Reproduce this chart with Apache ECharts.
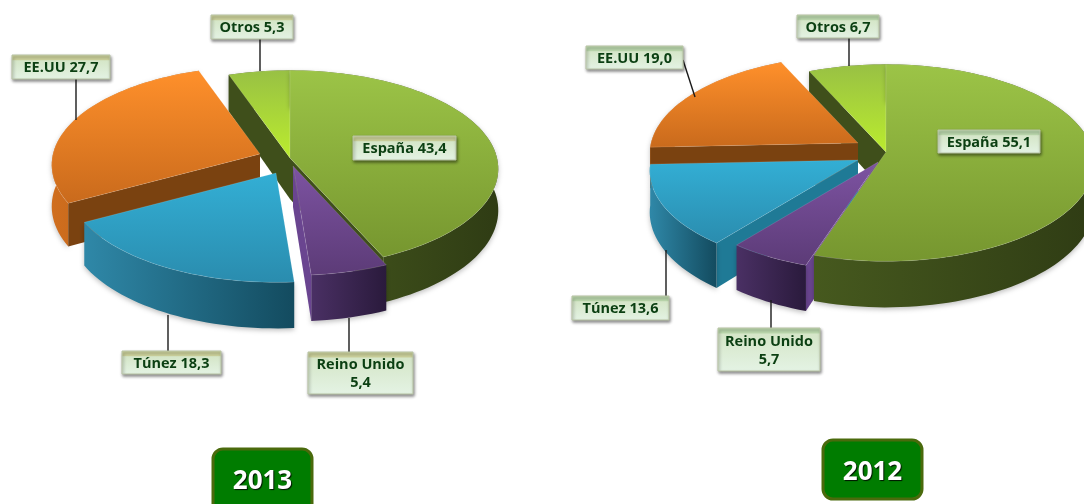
<!DOCTYPE html>
<html>
<head>
<meta charset="utf-8">
<title>Reparto por destino 2013 y 2012</title>
<script src="https://cdn.jsdelivr.net/npm/echarts@6/dist/echarts.min.js"></script>
<style>
    html, body { margin: 0; padding: 0; background: #fff; }
    #chart { width: 1084px; height: 504px; }
</style>
</head>
<body>
<div id="chart"></div>
<script>
const categories = ['España', 'Reino Unido', 'Túnez', 'EE.UU', 'Otros'];
const values2013 = [43.4, 5.4, 18.3, 27.7, 5.3];
const values2012 = [55.1, 5.7, 13.6, 19.0, 6.7];
const years = ['2013', '2012'];

// Pie geometry shared by both charts
const RADIUS = 207;
const FLATTEN = 0.47;
const PERSPECTIVE = 0.11;
const DEPTH = 41;

const center2013 = [290, 158];
const center2012 = [886, 152];

// How far each slice is pulled out of the pie
const explode2013 = [[0, 0], [3, 8], [-14, 15], [-30, -4], [0, 0]];
const explode2012 = [[0, 0], [-8, 10], [-28, 8], [-28, -9], [0, 0]];

// Painting order, back to front
const zOrder = [3, 5, 4, 2, 1];

// x, y, w, h of the label boxes
const boxes2013 = [[353, 136, 103, 24], [308, 352, 105, 42], [122, 351, 99, 23], [12, 55, 98, 24], [211, 15, 82, 24]];
const boxes2012 = [[938, 130, 102, 23], [718, 328, 102, 43], [572, 296, 97, 24], [586, 46, 97, 23], [797, 15, 82, 23]];

// Leader lines from box to slice (España has none)
const leaders2013 = [null, [349, 318, 349, 352], [168, 315, 168, 351], [76, 78, 76, 120], [260, 39, 260, 71]];
const leaders2012 = [null, [771, 300, 771, 328], [666, 250, 666, 296], [683, 60, 695, 97], [849, 38, 849, 66]];

const topColors = [['#9cc447', '#76962f'], ['#7d53a2', '#5c3b77'], ['#33afd5', '#2a8cae'], ['#ff902b', '#c96a1c'], ['#98c044', '#bbec2e']];
const rimColors = [['#46591e', '#2f3c14'], ['#4a3064', '#2a1a3c'], ['#2f88a8', '#134b5f'], ['#d06e1e', '#a85a16'], ['#3f4f1b', '#3f4f1b']];
const cutColors = ['#3f4f1b', '#6a4590', '#1f7a96', '#7a4210', '#3f4f1b'];

function vertical(c) {
    return new echarts.graphic.LinearGradient(0, 0, 0, 1, [{ offset: 0, color: c[0] }, { offset: 1, color: c[1] }]);
}

function horizontal(c) {
    return new echarts.graphic.LinearGradient(0, 0, 1, 0, [{ offset: 0, color: c[0] }, { offset: 1, color: c[1] }]);
}

// Angle is clockwise from 12 o'clock, the front of the pie gets a bit bigger
function project(apex, deg) {
    const a = deg * Math.PI / 180;
    const u = Math.sin(a);
    const v = -Math.cos(a);
    const s = 1 / (1 - PERSPECTIVE * v);
    return [apex[0] + RADIUS * u * s, apex[1] + RADIUS * FLATTEN * v * s, s];
}

function labelText(i, value) {
    const num = value.toFixed(1).replace('.', ',');
    return categories[i] === 'Reino Unido' ? categories[i] + '\n' + num : categories[i] + ' ' + num;
}

// A cut wall shows only if moving its edge down leaves the slice's top face
function wallShows(apex, edge, mid) {
    const ex = edge[0] - apex[0];
    const ey = edge[1] - apex[1];
    const toDown = ex;
    const toMid = ex * (mid[1] - apex[1]) - ey * (mid[0] - apex[0]);
    return toDown * toMid < 0;
}

function renderSlice(params, api, cfg) {
    const i = params.dataIndex;
    let before = 0;
    for (let k = 0; k < i; k++) before += cfg.values[k];
    const total = cfg.values.reduce((a, b) => a + b, 0);
    const start = before / total * 360;
    const end = (before + api.value(0)) / total * 360;

    const apex = [cfg.center[0] + cfg.explode[i][0], cfg.center[1] + cfg.explode[i][1]];
    const z = zOrder[i] * 10;

    const arc = [];
    const steps = Math.ceil((end - start) / 2);
    for (let k = 0; k <= steps; k++) arc.push(project(apex, start + (end - start) * k / steps));
    const mid = project(apex, (start + end) / 2);

    const down = (p) => [p[0], p[1] + DEPTH * p[2]];
    const flat = (p) => [p[0], p[1]];
    const apexDown = [apex[0], apex[1] + DEPTH];
    const children = [];

    // Rim first, then the cut walls, then the top face
    children.push({
        type: 'polygon',
        z2: z,
        shape: { points: arc.map(flat).concat(arc.slice().reverse().map(down)) },
        style: { fill: horizontal(rimColors[i]), shadowBlur: 5, shadowColor: 'rgba(0,0,0,0.25)', shadowOffsetY: 2 }
    });
    [arc[0], arc[arc.length - 1]].forEach((p, side) => {
        if (!wallShows(apex, p, mid)) return;
        // Walls of the front slices that face España go behind it, only their outer end stays in view
        const tucked = side === 0 && zOrder[i] > zOrder[0];
        children.push({
            type: 'polygon',
            z2: tucked ? zOrder[0] * 10 - 0.5 : z + 1,
            shape: { points: [apex, flat(p), down(p), apexDown] },
            style: { fill: cutColors[i] }
        });
    });
    children.push({
        type: 'polygon',
        z2: z + 2,
        shape: { points: [apex].concat(arc.map(flat)) },
        style: { fill: vertical(topColors[i]), stroke: 'rgba(255,255,255,0.12)', lineWidth: 1 }
    });

    // Leader line and label box
    const leader = cfg.leaders[i];
    if (leader) {
        children.push({
            type: 'line',
            z2: 100,
            shape: { x1: leader[0], y1: leader[1], x2: leader[2], y2: leader[3] },
            style: { stroke: '#1a1a1a', lineWidth: 1.4 }
        });
    }
    const box = cfg.boxes[i];
    const bevel = Math.min(5 / box[3], 0.25);
    children.push({
        type: 'rect',
        z2: 101,
        shape: { x: box[0], y: box[1], width: box[2], height: box[3] },
        style: {
            fill: new echarts.graphic.LinearGradient(0, 0, 0, 1, [
                { offset: 0, color: cfg.bevel },
                { offset: bevel, color: cfg.bevel },
                { offset: bevel + 0.04, color: '#d5e6c8' },
                { offset: 1, color: '#e4f3e4' }
            ]),
            stroke: '#b8c4a4',
            lineWidth: 1,
            shadowBlur: 3,
            shadowColor: 'rgba(0,0,0,0.45)',
            shadowOffsetX: 1,
            shadowOffsetY: 2
        }
    });
    children.push({
        type: 'text',
        z2: 102,
        style: {
            x: box[0] + box[2] / 2,
            y: box[1] + box[3] / 2 + 1,
            text: labelText(i, api.value(0)),
            fill: '#0b3f12',
            font: 'bold 14.5px "Open Sans", sans-serif',
            lineHeight: 18,
            align: 'center',
            verticalAlign: 'middle'
        }
    });
    return { type: 'group', children: children };
}

function pieSeries(cfg) {
    return {
        type: 'custom',
        coordinateSystem: 'none',
        name: cfg.name,
        animation: false,
        silent: true,
        data: cfg.values.map((v, i) => ({ name: categories[i], value: [v] })),
        renderItem: (params, api) => renderSlice(params, api, cfg)
    };
}

function yearBadge(text, x, y, w, h) {
    return {
        type: 'group',
        children: [{
            type: 'rect',
            shape: { x: x, y: y, width: w, height: h, r: 10 },
            style: { fill: '#007c00', stroke: '#4a6a0c', lineWidth: 3 }
        }, {
            type: 'text',
            style: {
                x: x + w / 2,
                y: y + 33,
                text: text,
                fill: '#fff',
                font: 'bold 26px "Open Sans", sans-serif',
                align: 'center',
                verticalAlign: 'middle',
                textShadowColor: 'rgba(0,0,0,0.85)',
                textShadowBlur: 1,
                textShadowOffsetX: 1,
                textShadowOffsetY: 1
            }
        }]
    };
}

window.onload = () => {
    const chart = echarts.init(document.getElementById('chart'));
    chart.setOption({
        backgroundColor: '#fff',
        animation: false,
        series: [
            pieSeries({ name: years[0], values: values2013, center: center2013, explode: explode2013, boxes: boxes2013, leaders: leaders2013, bevel: '#cdd29c' }),
            pieSeries({ name: years[1], values: values2012, center: center2012, explode: explode2012, boxes: boxes2012, leaders: leaders2012, bevel: '#bcd9ae' })
        ],
        graphic: [
            yearBadge(years[0], 213, 449, 99, 70),
            yearBadge(years[1], 823, 440, 99, 59)
        ]
    });
};
</script>
</body>
</html>
